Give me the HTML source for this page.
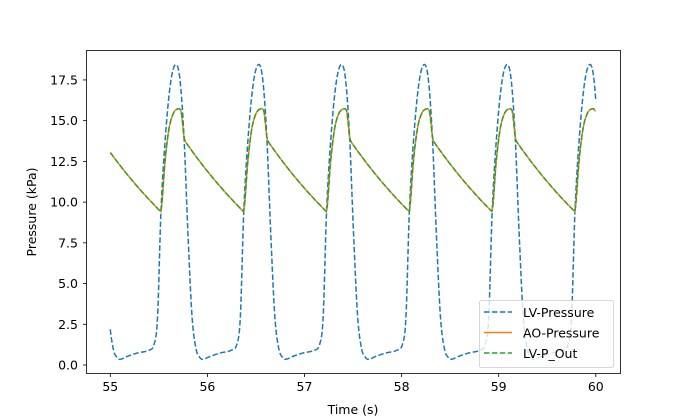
<!DOCTYPE html>
<html><head><meta charset="utf-8"><style>
body{margin:0;background:#fff}
svg{display:block;font-family:"DejaVu Sans","Liberation Sans",sans-serif}
</style></head><body>
<svg id="s" width="689" height="420" xmlns="http://www.w3.org/2000/svg">
<rect width="689" height="420" fill="#fff"/>
<g id="ticks" font-size="12.5" fill="#000"></g>
<g id="lines" fill="none"></g>
<rect x="86.5" y="50.5" width="534" height="323" fill="none" stroke="#000" stroke-width="0.8"/>
<text x="353" y="414" font-size="12.5" text-anchor="middle">Time (s)</text>
<text transform="translate(36,212) rotate(-90)" font-size="12.5" text-anchor="middle">Pressure (kPa)</text>
<g>
<rect x="479.5" y="300.5" width="134" height="67" rx="2" fill="#fff" fill-opacity="0.8" stroke="#ccc" stroke-width="0.8"/>
<line x1="484" y1="312" x2="512" y2="312" stroke="#1f77b4" stroke-width="1.5" stroke-dasharray="5.5,2.4"/>
<text x="523" y="317" font-size="12.5">LV-Pressure</text>
<line x1="484" y1="332.5" x2="512" y2="332.5" stroke="#ff7f0e" stroke-width="1.5"/>
<text x="523" y="337.5" font-size="12.5">AO-Pressure</text>
<line x1="484" y1="353" x2="512" y2="353" stroke="#2ca02c" stroke-width="1.5" stroke-dasharray="5.5,2.4"/>
<text x="523" y="358" font-size="12.5">LV-P_Out</text>
</g>
</svg>
<script>
var NS="http://www.w3.org/2000/svg";
function el(t,a,p){var e=document.createElementNS(NS,t);for(var k in a)e.setAttribute(k,a[k]);p.appendChild(e);return e;}
var tk=document.getElementById('ticks'),ln=document.getElementById('lines');
function Y(v){return 365-v*16.29;}
for(var i=0;i<=5;i++){var x=110.3+97.1*i;el('line',{x1:x,y1:373.5,x2:x,y2:377,stroke:'#000','stroke-width':0.8},tk);
var t=el('text',{x:x,y:391,'text-anchor':'middle'},tk);t.textContent=55+i;}
for(var i=0;i<=7;i++){var v=i*2.5,y=Y(v);el('line',{x1:83,y1:y,x2:86.5,y2:y,stroke:'#000','stroke-width':0.8},tk);
var t=el('text',{x:78,y:y+4.5,'text-anchor':'end'},tk);t.textContent=v.toFixed(1);}
var LVp=[[-3.4,3],[0,9.5],[5,14.5],[10,17.5],[15,18.45],[19,17.5],[23,14],[27,8],[31,3],[35,1],[39,0.45],[42,0.35],[50,0.55],[60,0.75],[70,0.9],[76,1.3],[79.4,3],[82.8,9.5],[87.8,14.5]];
function cr(pts,u){for(var i=1;i<pts.length-2;i++){if(u>=pts[i][0]&&u<=pts[i+1][0]){var p0=pts[i-1],p1=pts[i],p2=pts[i+1],p3=pts[i+2];var t=(u-p1[0])/(p2[0]-p1[0]);var m1=(p2[1]-p0[1])/(p2[0]-p0[0])*(p2[0]-p1[0]),m2=(p3[1]-p1[1])/(p3[0]-p1[0])*(p2[0]-p1[0]);var t2=t*t,t3=t2*t;return (2*t3-3*t2+1)*p1[1]+(t3-2*t2+t)*m1+(-2*t3+3*t2)*p2[1]+(t3-t2)*m2;}}return pts[pts.length-1][1];}
var AOp=[[-4,10.5],[0,9.5],[4,12.5],[8,14.5],[12,15.4],[16,15.7],[20,15.6],[21.5,14.9],[23,14.0],[24.5,13.7],[27,13.45]];
function AO(u){if(u<=24.5)return cr(AOp,u);return 13.7*Math.exp(-0.00645*(u-24.5));}
var P=82.8,m0=161;
var a='',b='';
for(var x=110.3;x<=596;x+=0.5){var u=((x-m0)%P+P)%P;if(u>P-0.01)u=0;
a+=(a?'L':'M')+x.toFixed(1)+','+Y(cr(LVp,u)).toFixed(1);
var ao=AO(u); if(x>590) ao=Math.max(ao,15.6);
b+=(b?'L':'M')+x.toFixed(1)+','+Y(ao).toFixed(1);}
el('path',{d:a,stroke:'#1f77b4','stroke-width':1.5,'stroke-dasharray':'5.5,2.4'},ln);
el('path',{d:b,stroke:'#ff7f0e','stroke-width':1.5},ln);
el('path',{d:b,stroke:'#2ca02c','stroke-width':1.5,'stroke-dasharray':'5.5,2.4'},ln);
</script>
</body></html>
